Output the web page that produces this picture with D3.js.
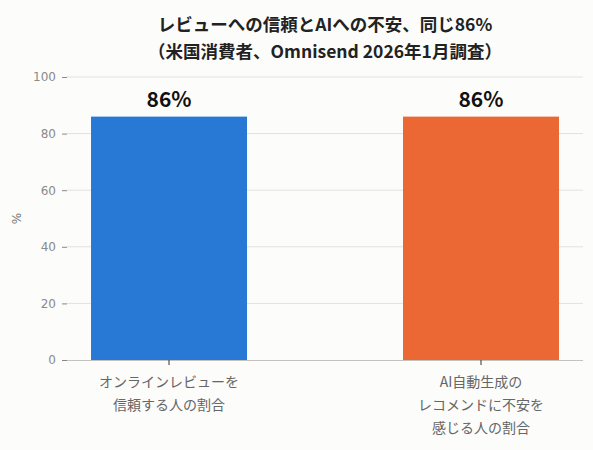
<!DOCTYPE html>
<html>
<head>
<meta charset="utf-8">
<script src="https://cdn.jsdelivr.net/npm/d3@7"></script>
<style>
  html, body { margin: 0; padding: 0; background: #fcfcfa; }
  svg { display: block; font-family: "Noto Sans CJK JP", "Noto Sans", sans-serif; }
</style>
</head>
<body>
<div id="chart"></div>
<script>
// Daten
const categories = ["trust", "anxiety"];
const categoryLabels = [
    ["オンラインレビューを", "信頼する人の割合"],
    ["AI自動生成の", "レコメンドに不安を", "感じる人の割合"]
];
const values = [86, 86];
const barColors = ["#2878d6", "#eb6835"];
const yTicks = [0, 20, 40, 60, 80, 100];
const titleLines = ["レビューへの信頼とAIへの不安、同じ86%", "（米国消費者、Omnisend 2026年1月調査）"];

const width = 593;
const height = 450;
const margin = { top: 77, right: 10, bottom: 90, left: 67 };

const svg = d3.select("#chart")
    .append("svg")
    .attr("width", width)
    .attr("height", height);

svg.append("rect")
    .attr("width", width)
    .attr("height", height)
    .attr("fill", "#fcfcfa");

// Skalen
const x = d3.scaleBand()
    .domain(categories)
    .range([margin.left, width - margin.right])
    .paddingInner(0.5)
    .paddingOuter(0.077);

const y = d3.scaleLinear()
    .domain([0, 100])
    .range([height - margin.bottom, margin.top]);

// Gitter
svg.append("g")
    .selectAll("line")
    .data(yTicks.filter(d => d > 0))
    .join("line")
    .attr("x1", margin.left)
    .attr("x2", width - margin.right)
    .attr("y1", d => y(d))
    .attr("y2", d => y(d))
    .attr("stroke", "#e2e2dc")
    .attr("stroke-width", 1);

// y-Achse
const yAxis = svg.append("g")
    .attr("transform", `translate(${margin.left},0)`)
    .call(d3.axisLeft(y).tickValues(yTicks).tickSize(5).tickPadding(6));
yAxis.select(".domain").remove();
yAxis.selectAll(".tick line").attr("stroke", "#888");
yAxis.selectAll(".tick text")
    .attr("fill", "#8a8a8a")
    .attr("font-size", 12)
    .attr("font-family", "'DejaVu Sans', sans-serif");

svg.append("text")
    .attr("transform", `translate(21,${(y(0) + y(100)) / 2}) rotate(-90)`)
    .attr("text-anchor", "middle")
    .attr("fill", "#777")
    .attr("font-size", 12)
    .attr("font-family", "'DejaVu Sans', sans-serif")
    .text("%");

// Balken
svg.append("g")
    .selectAll("rect")
    .data(categories)
    .join("rect")
    .attr("x", d => x(d))
    .attr("width", x.bandwidth())
    .attr("y", (d, i) => y(values[i]))
    .attr("height", (d, i) => y(0) - y(values[i]))
    .attr("fill", (d, i) => barColors[i]);

// Werte
svg.append("g")
    .selectAll("text")
    .data(categories)
    .join("text")
    .attr("x", d => x(d) + x.bandwidth() / 2)
    .attr("y", (d, i) => y(values[i]) - 10)
    .attr("text-anchor", "middle")
    .attr("font-size", 21)
    .attr("font-weight", "bold")
    .attr("fill", "#111")
    .text((d, i) => values[i] + "%");

// x-Achse
const xAxis = svg.append("g")
    .attr("transform", `translate(0,${y(0)})`)
    .call(d3.axisBottom(x).tickSize(5).tickFormat(""));
xAxis.select(".domain")
    .attr("d", `M${margin.left},0.5H${width - margin.right}`)
    .attr("stroke", "#c4c4bc");
xAxis.selectAll(".tick line").attr("stroke", "#333");

const xLabels = svg.append("g")
    .selectAll("text")
    .data(categories)
    .join("text")
    .attr("x", d => x(d) + x.bandwidth() / 2)
    .attr("y", y(0) + 27)
    .attr("text-anchor", "middle")
    .attr("font-size", 14)
    .attr("fill", "#666");
xLabels.each(function (d, i) {
    d3.select(this).selectAll("tspan")
        .data(categoryLabels[i])
        .join("tspan")
        .attr("x", x(d) + x.bandwidth() / 2)
        .attr("dy", (t, j) => j === 0 ? 0 : 23)
        .text(t => t);
});

// Titel
svg.append("g")
    .selectAll("text")
    .data(titleLines)
    .join("text")
    .attr("x", 325)
    .attr("y", (d, i) => 31 + i * 27)
    .attr("text-anchor", "middle")
    .attr("font-size", 17.5)
    .attr("font-weight", "bold")
    .attr("fill", "#222")
    .text(d => d);
</script>
</body>
</html>
